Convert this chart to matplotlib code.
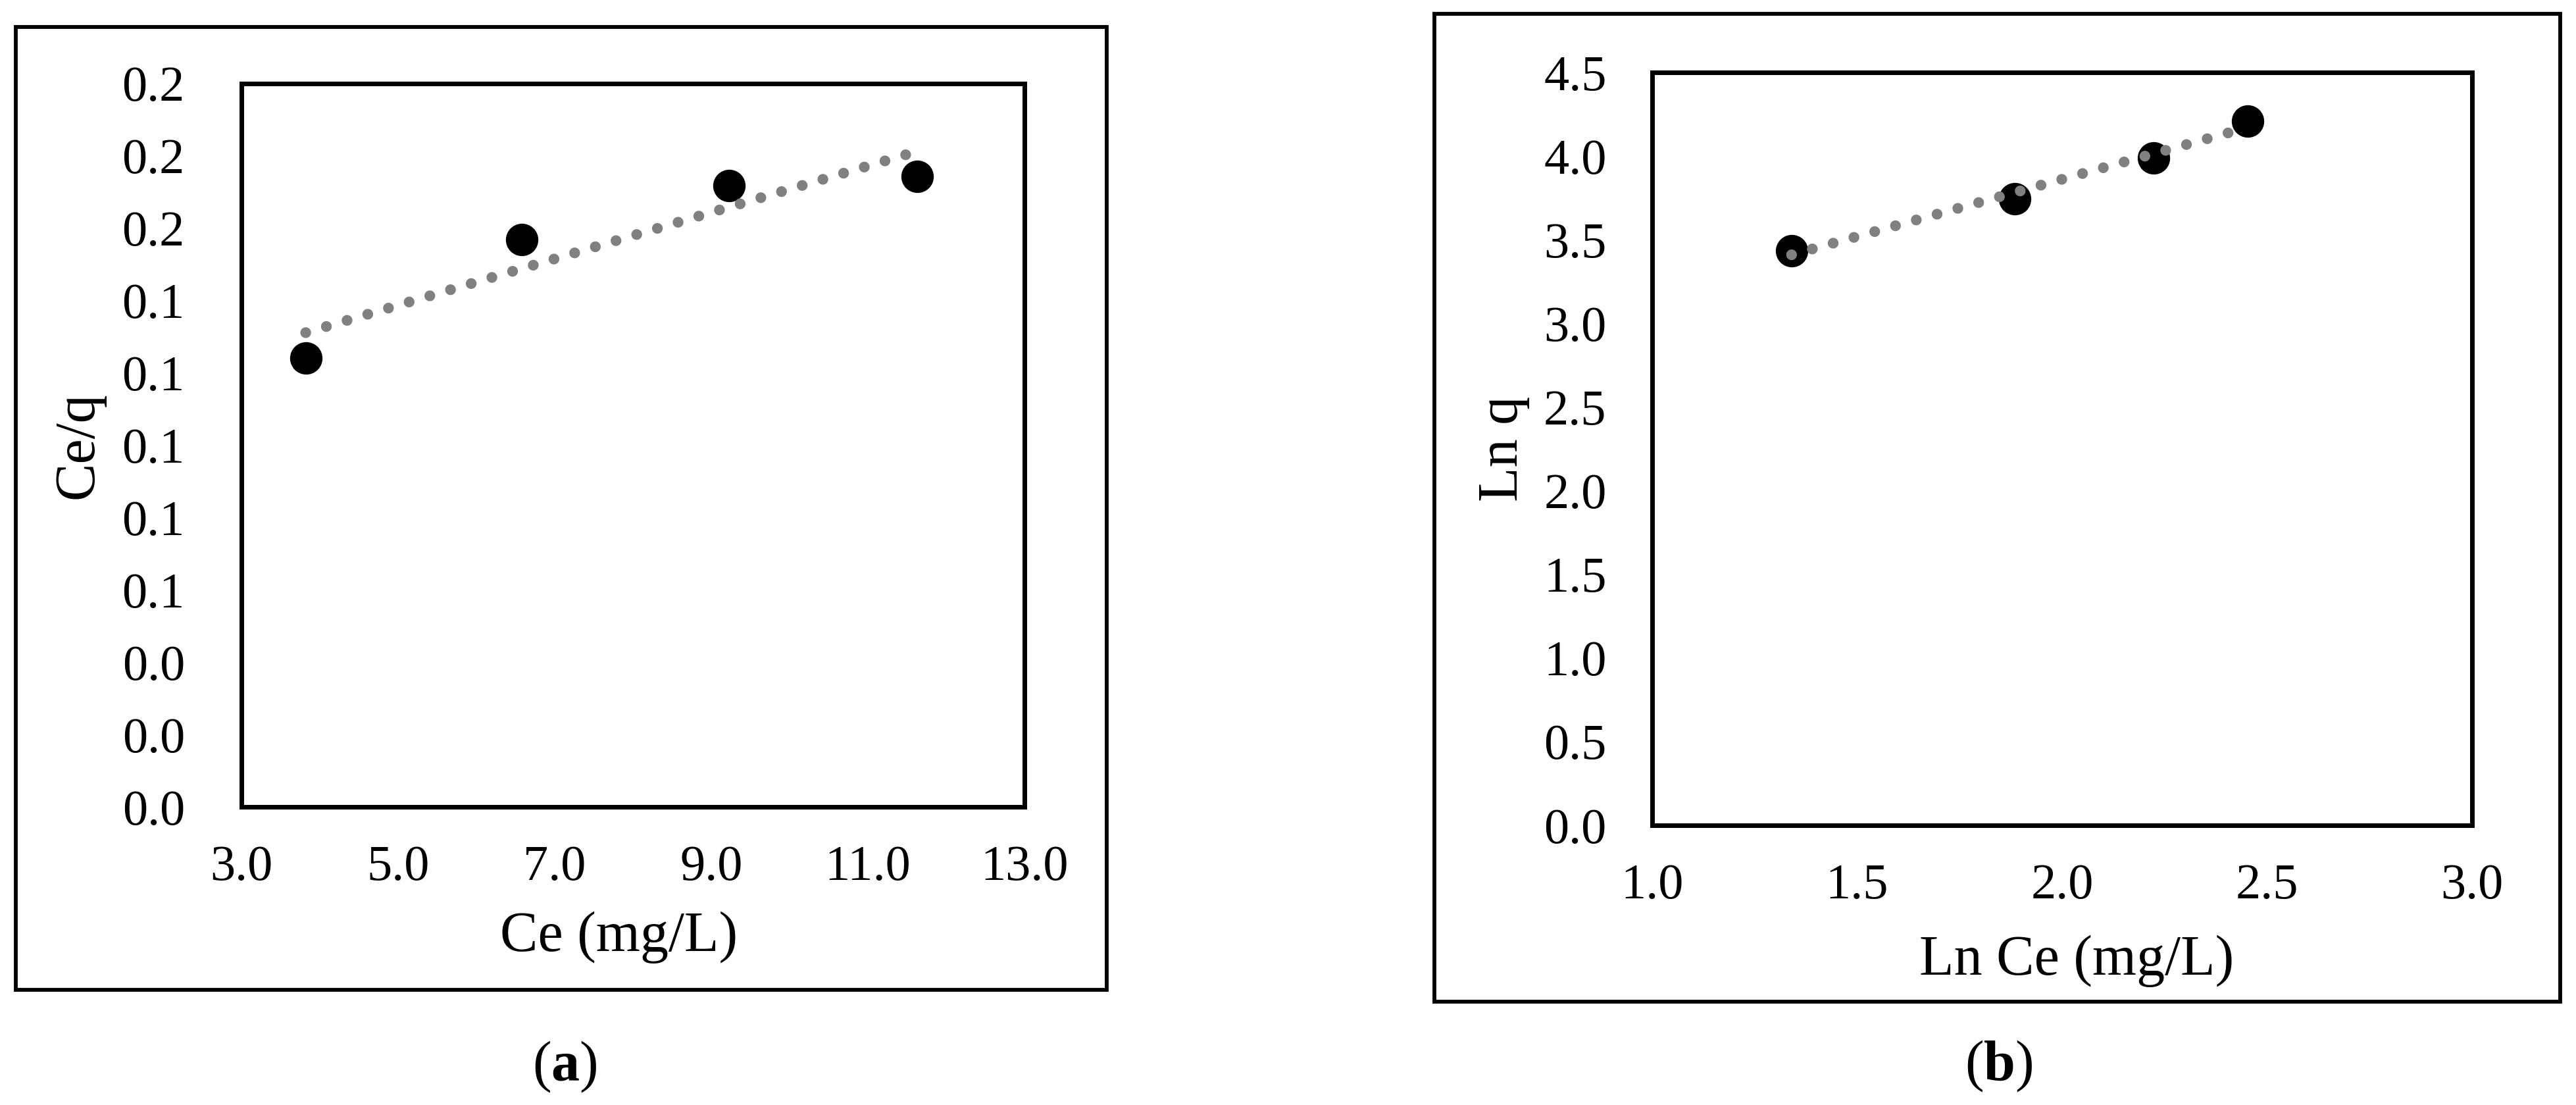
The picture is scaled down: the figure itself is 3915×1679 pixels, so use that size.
import numpy as np
import matplotlib
matplotlib.use('Agg')
import matplotlib.pyplot as plt
from matplotlib.patches import Rectangle
from matplotlib.ticker import FormatStrFormatter

# data
ce = [3.82, 6.58, 9.23, 11.63]
ce_over_q = [0.1241, 0.1569, 0.1718, 0.1743]
ln_ce = [1.340, 1.884, 2.223, 2.453]
ln_q = [3.434, 3.745, 3.989, 4.209]

xticks_a = [3.0, 5.0, 7.0, 9.0, 11.0, 13.0]
yticks_a = [0.00, 0.02, 0.04, 0.06, 0.08, 0.10, 0.12, 0.14, 0.16, 0.18, 0.20]
xticks_b = [1.0, 1.5, 2.0, 2.5, 3.0]
yticks_b = [0.0, 0.5, 1.0, 1.5, 2.0, 2.5, 3.0, 3.5, 4.0, 4.5]

plt.rcParams['font.family'] = ['Liberation Serif', 'DejaVu Serif']
plt.rcParams['mathtext.fontset'] = 'custom'
plt.rcParams['mathtext.rm'] = 'Liberation Serif'
plt.rcParams['mathtext.bf'] = 'Liberation Serif:bold'

W, H = 3916, 1679
fig = plt.figure(figsize=(W / 100, H / 100), dpi=100)


def px_rect(x0, y0, x1, y1):
    # pixel box (top-left origin) -> figure fraction [l, b, w, h]
    return [x0 / W, 1 - y1 / H, (x1 - x0) / W, (y1 - y0) / H]


def panel(rect, xs, ys, xticks, yticks, xlab, ylab, yfmt, ylab_x, ypad):
    ax = fig.add_axes(rect)
    ax.plot(xs, ys, 'o', color='black', markersize=34.5, zorder=3)
    k, b = np.polyfit(xs, ys, 1)
    xf = np.array([min(xs), max(xs)])
    ax.plot(xf, k * xf + b, color='#808080', linewidth=11.8,
            linestyle=(0, (0.001, 2.0)), dash_capstyle='round', zorder=4)
    ax.set_xlim(xticks[0], xticks[-1])
    ax.set_ylim(yticks[0], yticks[-1])
    ax.set_xticks(xticks)
    ax.set_yticks(yticks)
    ax.xaxis.set_major_formatter(FormatStrFormatter('%.1f'))
    ax.yaxis.set_major_formatter(FormatStrFormatter(yfmt))
    ax.tick_params(length=0, labelsize=55)
    ax.tick_params(axis='x', pad=42)
    ax.tick_params(axis='y', pad=ypad)
    for s in ax.spines.values():
        s.set_linewidth(5)
    ax.set_xlabel(xlab, fontsize=62, va='center')
    ax.xaxis.set_label_coords(0.5, -0.18)
    ax.set_ylabel(ylab, fontsize=62, va='center')
    ax.yaxis.set_label_coords(ylab_x, 0.5)
    return ax


ax1 = panel(px_rect(367, 127, 1557, 1226), ce, ce_over_q, xticks_a, yticks_a,
            'Ce (mg/L)', 'Ce/q', '%.1f', -0.208, 62)
ax1.xaxis.set_label_coords(0.482, -0.18)

ax2 = panel(px_rect(2511, 110, 3757, 1254), ln_ce, ln_q, xticks_b, yticks_b,
            'Ln Ce (mg/L)', 'Ln q', '%.1f', -0.181, 50)
ax2.xaxis.set_label_coords(0.518, -0.18)

# outer frames round each chart
for x0, y0, x1, y1 in [(24, 41, 1682, 1504), (2180, 21, 3891, 1522)]:
    l, b, w, h = px_rect(x0, y0, x1, y1)
    fig.patches.append(Rectangle((l, b), w, h, transform=fig.transFigure,
                                 fill=False, edgecolor='black', linewidth=4.2))

fig.text(858 / W, 1 - 1621 / H, r'($\mathbf{a}$)', fontsize=62, ha='center', va='center')
fig.text(3038 / W, 1 - 1620 / H, r'($\mathbf{b}$)', fontsize=62, ha='center', va='center')

fig.savefig('out.png', dpi=100, facecolor='white')
